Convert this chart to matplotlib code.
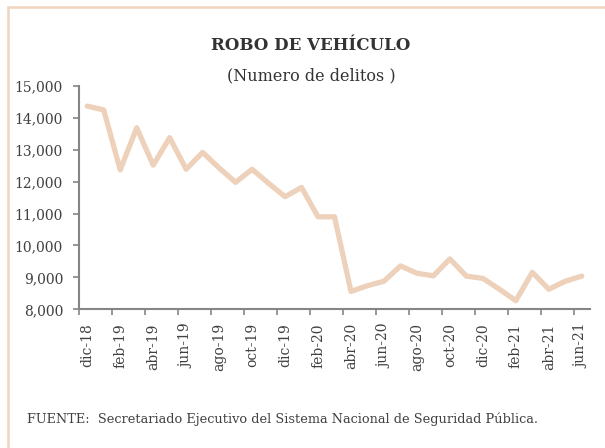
import matplotlib
matplotlib.use("Agg")
import matplotlib.pyplot as plt
from matplotlib.patches import Rectangle
from matplotlib.ticker import FixedLocator, FuncFormatter

months = ["dic-18", "ene-19", "feb-19", "mar-19", "abr-19", "may-19", "jun-19", "jul-19",
          "ago-19", "sep-19", "oct-19", "nov-19", "dic-19", "ene-20", "feb-20", "mar-20",
          "abr-20", "may-20", "jun-20", "jul-20", "ago-20", "sep-20", "oct-20", "nov-20",
          "dic-20", "ene-21", "feb-21", "mar-21", "abr-21", "may-21", "jun-21"]
values = [14370, 14250, 12370, 13690, 12520, 13380, 12390, 12920,
          12430, 11980, 12390, 11950, 11530, 11820, 10900, 10900,
          8560, 8740, 8880, 9360, 9130, 9050, 9580, 9040,
          8970, 8630, 8270, 9160, 8630, 8880, 9040]
yticks = [8000, 9000, 10000, 11000, 12000, 13000, 14000, 15000]

title = "ROBO DE VEHÍCULO"
subtitle = "(Numero de delitos )"
source = "FUENTE:  Secretariado Ejecutivo del Sistema Nacional de Seguridad Pública."

plt.rcParams['font.family'] = ['DejaVu Serif']

fig = plt.figure(figsize=(6.05, 4.48), dpi=100)
fig.patch.set_facecolor("white")
# border
fig.patches.append(Rectangle((8/605, -0.05), 1.2, 1 - 7/448 + 0.05, transform=fig.transFigure,
                             fill=False, edgecolor="#F0D4BE", linewidth=1.8))

ax = fig.add_axes([79/605, 1 - 309.3/448, (590 - 79)/605, (309.3 - 86)/448])
x = list(range(len(values)))
ax.plot(x, values, color="#EED1BA", linewidth=3.8, solid_joinstyle="round", solid_capstyle="round")

ax.set_xlim(-0.5, len(values) - 0.5)
ax.set_ylim(8000, 15000)

for s in ["top", "right"]:
    ax.spines[s].set_visible(False)
for s in ["left", "bottom"]:
    ax.spines[s].set_color("#858585")
    ax.spines[s].set_linewidth(1.5)

ax.set_yticks(yticks)
ax.yaxis.set_major_formatter(FuncFormatter(lambda v, p: f"{int(v):,}"))
ax.tick_params(axis="y", direction="out", length=4.5, width=1.2, color="#858585",
               labelsize=10, labelcolor="#404040", pad=7)

label_idx = list(range(0, len(months), 2))
ax.set_xticks(label_idx)
ax.set_xticklabels([months[i] for i in label_idx], rotation=90, fontsize=10, color="#404040")
ax.tick_params(axis="x", which="major", length=0, pad=10)
ax.xaxis.set_minor_locator(FixedLocator([i - 0.5 for i in range(0, len(months), 2)]))
ax.tick_params(axis="x", which="minor", direction="out", length=4.5, width=1.2, color="#858585")

fig.text(311/605, 1 - 45/448, title, ha="center", va="center", fontsize=12,
         fontweight="bold", color="#333333")
fig.text(311/605, 1 - 76/448, subtitle, ha="center", va="center", fontsize=11.5, color="#333333")
fig.text(27/605, 1 - 419/448, source, ha="left", va="center", fontsize=9.3, color="#404040")

fig.savefig("out.png", dpi=100)
